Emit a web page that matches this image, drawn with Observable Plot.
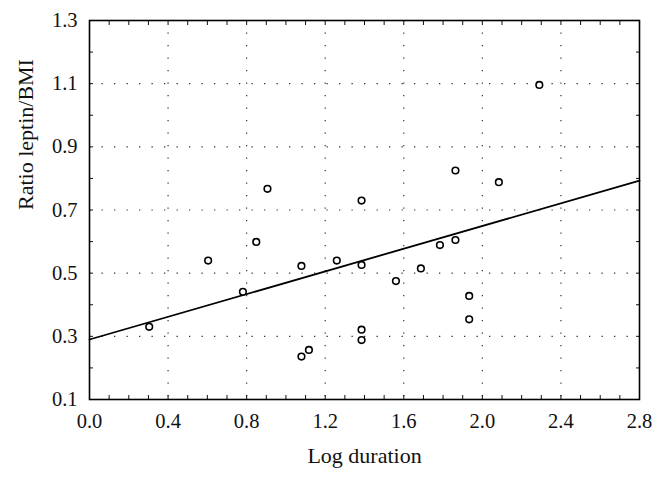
<!DOCTYPE html>
<html><head><meta charset="utf-8">
<script src="https://cdn.jsdelivr.net/npm/d3@7"></script>
<script src="https://cdn.jsdelivr.net/npm/@observablehq/plot@0.6"></script>
<style>body{margin:0;background:#fff}</style>
</head><body><div id="chart"></div>
<script>
const logDuration = [0.304,0.604,0.781,0.849,0.906,1.079,1.079,1.117,1.259,1.385,1.385,1.385,1.385,1.560,1.687,1.784,1.863,1.863,1.933,1.933,2.084,2.290];
const ratioLeptinBMI = [0.330,0.540,0.441,0.599,0.767,0.523,0.236,0.257,0.540,0.730,0.526,0.321,0.288,0.475,0.515,0.589,0.605,0.825,0.428,0.354,0.788,1.096];
const fitX = [0, 2.8];
const fitY = [0.290, 0.793];
const xTicks = [0.0,0.4,0.8,1.2,1.6,2.0,2.4,2.8];
const yTicks = [0.1,0.3,0.5,0.7,0.9,1.1,1.3];
const xMinor = d3.range(0, 29).map(i => i / 10);
const yMinor = d3.range(1, 14).map(i => i / 10);

const points = logDuration.map((x, i) => ({x, y: ratioLeptinBMI[i]}));
const fit = fitX.map((x, i) => ({x, y: fitY[i]}));
const font = "'Liberation Serif', 'Times New Roman', serif";

const chart = Plot.plot({
  width: 665, height: 479,
  marginLeft: 89, marginRight: 26, marginTop: 20, marginBottom: 80,
  style: {fontFamily: font, fontSize: "20px", color: "#111", background: "#fff"},
  x: {domain: [0, 2.8]},
  y: {domain: [0.1, 1.3]},
  marks: [
    Plot.ruleX(xTicks.slice(1, -1), {stroke: "#333", strokeWidth: 1.2, strokeDasharray: "1.3 11.2"}),
    Plot.ruleY(yTicks.slice(1, -1), {stroke: "#333", strokeWidth: 1.2, strokeDasharray: "1.3 11.2"}),
    Plot.axisX({ticks: xMinor, tickSize: 4, dy: -4, text: null, strokeWidth: 1, label: null}),
    Plot.axisX({anchor: "top", ticks: xMinor, tickSize: 4, dy: 4, text: null, strokeWidth: 1, label: null}),
    Plot.axisY({ticks: yMinor, tickSize: 4, dx: 4, text: null, strokeWidth: 1, label: null}),
    Plot.axisY({anchor: "right", ticks: yMinor, tickSize: 4, dx: -4, text: null, strokeWidth: 1, label: null}),
    Plot.axisX({ticks: xTicks, tickSize: 0, tickPadding: 14, tickFormat: d3.format(".1f"), label: null, fontSize: 20.5}),
    Plot.axisY({ticks: yTicks, tickSize: 0, tickPadding: 12, tickFormat: d3.format(".1f"), label: null, fontSize: 20.5}),
    Plot.frame({stroke: "#000", strokeWidth: 1.6}),
    Plot.line(fit, {x: "x", y: "y", stroke: "#000", strokeWidth: 1.8}),
    Plot.dot(points, {x: "x", y: "y", r: 3.3, stroke: "#000", strokeWidth: 1.6, fill: "#fff"}),
    Plot.text(["Log duration"], {frameAnchor: "bottom", dx: 0, dy: 56, fontSize: 22, fill: "#111", lineAnchor: "middle"}),
    Plot.text(["Ratio leptin/BMI"], {frameAnchor: "left", dx: -64, dy: 0, rotate: -90, fontSize: 22, fill: "#111", lineAnchor: "middle"})
  ]
});
document.getElementById("chart").appendChild(chart);
</script>
</body></html>
